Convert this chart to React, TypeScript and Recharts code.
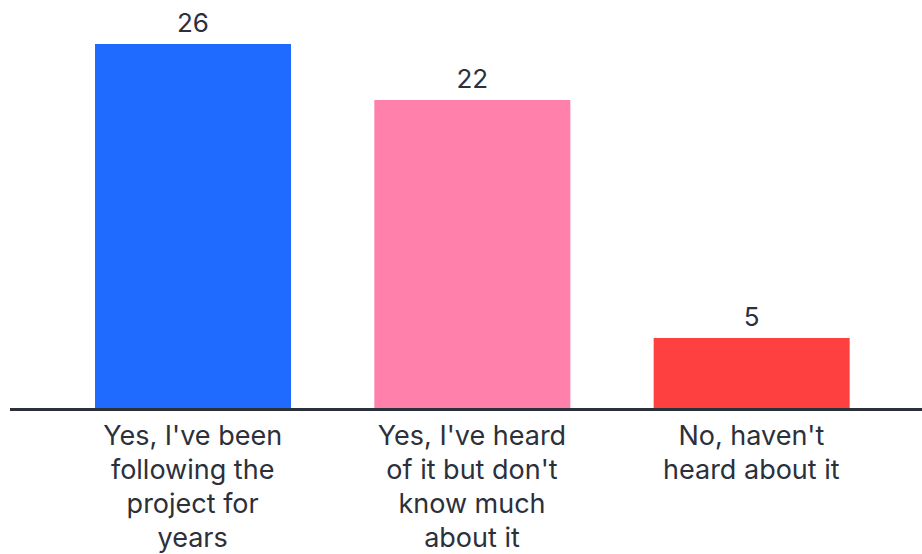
import { Bar, BarChart, Cell, LabelList, XAxis, YAxis } from "recharts";

const CATEGORIES = [
  "Yes, I've been\nfollowing the\nproject for\nyears",
  "Yes, I've heard\nof it but don't\nknow much\nabout it",
  "No, haven't\nheard about it",
];
const COUNTS = [26, 22, 5];
const COLORS = ["#1f6bff", "#ff80aa", "#ff4040"];

const TEXT = "#2c303b";
const FONT = "Inter, 'Noto Sans', sans-serif";

const data = CATEGORIES.map((name, i) => ({ name, value: COUNTS[i] }));

function WrappedTick(props: any) {
  const { x, y, payload } = props;
  const lines = String(payload?.value ?? "").split("\n");
  return (
    <text
      x={x}
      y={y}
      textAnchor="middle"
      fill={TEXT}
      fontFamily={FONT}
      fontSize={27}
    >
      {lines.map((line, i) => (
        <tspan key={i} x={x} dy={i === 0 ? 29 : 34}>
          {line}
        </tspan>
      ))}
    </text>
  );
}

export default function App() {
  return (
    <div style={{ position: "absolute", left: 0, top: 0, background: "#fff" }}>
      <BarChart
        width={922}
        height={554}
        data={data}
        margin={{ top: 44, right: 0, bottom: 0, left: 10 }}
        barSize={196}
      >
        <XAxis
          dataKey="name"
          height={146}
          padding={{ left: 43, right: 31 }}
          axisLine={{ stroke: TEXT, strokeWidth: 3, transform: "translate(0,1.5)" }}
          tickLine={false}
          interval={0}
          tick={<WrappedTick />}
        />
        <YAxis hide domain={[0, 26]} />
        <Bar dataKey="value" isAnimationActive={false}>
          {data.map((_, i) => (
            <Cell key={i} fill={COLORS[i]} />
          ))}
          <LabelList
            dataKey="value"
            position="top"
            offset={12}
            fill={TEXT}
            fontFamily={FONT}
            fontSize={26}
          />
        </Bar>
      </BarChart>
    </div>
  );
}
